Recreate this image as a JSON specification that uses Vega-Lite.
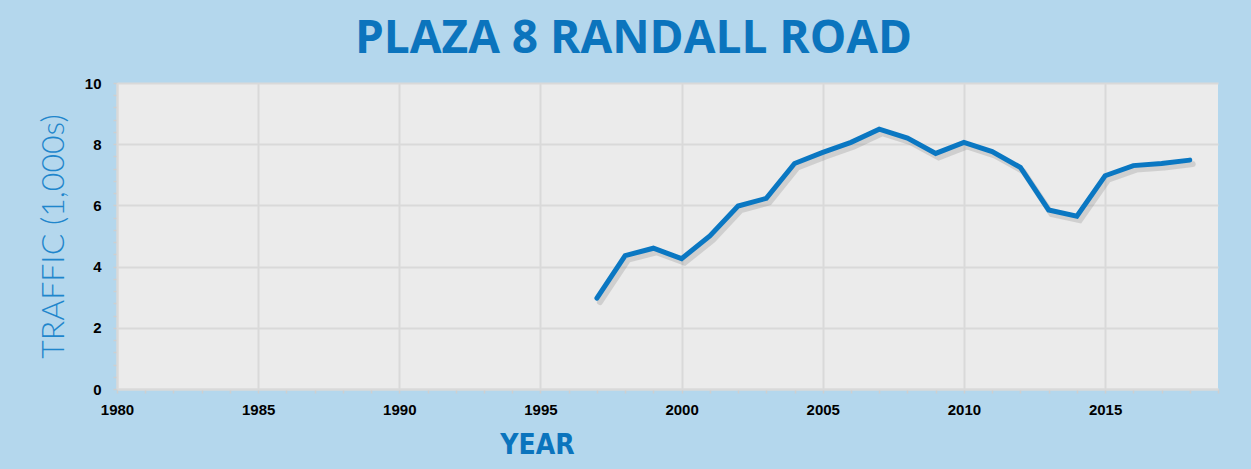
{
  "$schema": "https://vega.github.io/schema/vega-lite/v6.json",
  "width": 1101,
  "height": 306,
  "autosize": {"type": "none"},
  "padding": {"left": 117, "top": 83, "right": 33, "bottom": 80},
  "background": "#b4d7ed",
  "config": {"view": {"fill": "#ebebeb", "stroke": null}},
  "title": {
    "text": "PLAZA 8 RANDALL ROAD",
    "font": "Open Sans",
    "fontSize": 46,
    "fontWeight": "bold",
    "color": "#0b74bd",
    "dx": -34,
    "offset": 13
  },
  "data": {
    "values": [
      {"year": 1997, "traffic": 2.97},
      {"year": 1998, "traffic": 4.36},
      {"year": 1999, "traffic": 4.6},
      {"year": 2000, "traffic": 4.26},
      {"year": 2001, "traffic": 5.0},
      {"year": 2002, "traffic": 5.98},
      {"year": 2003, "traffic": 6.23},
      {"year": 2004, "traffic": 7.37},
      {"year": 2005, "traffic": 7.73},
      {"year": 2006, "traffic": 8.06},
      {"year": 2007, "traffic": 8.49},
      {"year": 2008, "traffic": 8.2},
      {"year": 2009, "traffic": 7.7},
      {"year": 2010, "traffic": 8.06},
      {"year": 2011, "traffic": 7.76},
      {"year": 2012, "traffic": 7.24},
      {"year": 2013, "traffic": 5.85},
      {"year": 2014, "traffic": 5.65},
      {"year": 2015, "traffic": 6.97},
      {"year": 2016, "traffic": 7.3},
      {"year": 2017, "traffic": 7.37},
      {"year": 2018, "traffic": 7.48}
    ]
  },
  "encoding": {
    "x": {
      "field": "year",
      "type": "quantitative",
      "scale": {"domain": [1980, 2019], "nice": false, "zero": false},
      "axis": {
        "title": "YEAR",
        "titleFont": "DejaVu Sans Condensed, Liberation Sans",
        "titleFontSize": 28,
        "titleFontWeight": "bold",
        "titleColor": "#0b74bd",
        "titleX": 420,
        "titleAnchor": "middle",
        "titlePadding": 14,
        "values": [1980,1981,1982,1983,1984,1985,1986,1987,1988,1989,1990,1991,1992,1993,1994,1995,1996,1997,1998,1999,2000,2001,2002,2003,2004,2005,2006,2007,2008,2009,2010,2011,2012,2013,2014,2015,2016,2017,2018,2019],
        "format": "d",
        "labelExpr": "datum.value % 5 === 0 ? datum.label : ''",
        "labelFont": "Liberation Sans",
        "labelFontSize": 15,
        "labelFontWeight": "bold",
        "labelColor": "#000000",
        "labelPadding": 9,
        "labelFlush": false,
        "labelOverlap": false,
        "grid": true,
        "gridColor": {"condition": {"test": "datum.value % 5 === 0", "value": "#d9d9d9"}, "value": "transparent"},
        "gridWidth": 2,
        "domainColor": "#d9d9d9",
        "domainWidth": 2,
        "tickColor": "#cfcfcf",
        "tickSize": 4,
        "tickWidth": 1.5
      }
    },
    "y": {
      "field": "traffic",
      "type": "quantitative",
      "scale": {"domain": [0, 10], "nice": false},
      "axis": {
        "title": "TRAFFIC (1,000s)",
        "titleFont": "Lato",
        "titleFontSize": 32,
        "titleFontWeight": 300,
        "titleColor": "#1f86cc",
        "titlePadding": 14,
        "values": [0,0.4,0.8,1.2,1.6,2,2.4,2.8,3.2,3.6,4,4.4,4.8,5.2,5.6,6,6.4,6.8,7.2,7.6,8,8.4,8.8,9.2,9.6,10],
        "labelExpr": "datum.value % 2 === 0 ? format(datum.value, 'd') : ''",
        "labelFont": "Liberation Sans",
        "labelFontSize": 15,
        "labelFontWeight": "bold",
        "labelColor": "#000000",
        "labelPadding": 12,
        "labelOverlap": false,
        "grid": true,
        "gridColor": {"condition": {"test": "datum.value % 2 === 0", "value": "#d9d9d9"}, "value": "transparent"},
        "gridWidth": 2,
        "domainColor": "#d9d9d9",
        "domainWidth": 2,
        "tickColor": "#cfcfcf",
        "tickSize": 4,
        "tickWidth": 1.5
      }
    }
  },
  "layer": [
    {
      "mark": {"type": "line", "color": "#555555", "opacity": 0.18, "strokeWidth": 6, "xOffset": 3, "yOffset": 4, "strokeCap": "round"}
    },
    {
      "mark": {"type": "line", "color": "#0a77c2", "strokeWidth": 5, "strokeCap": "round", "strokeJoin": "miter"}
    }
  ]
}
